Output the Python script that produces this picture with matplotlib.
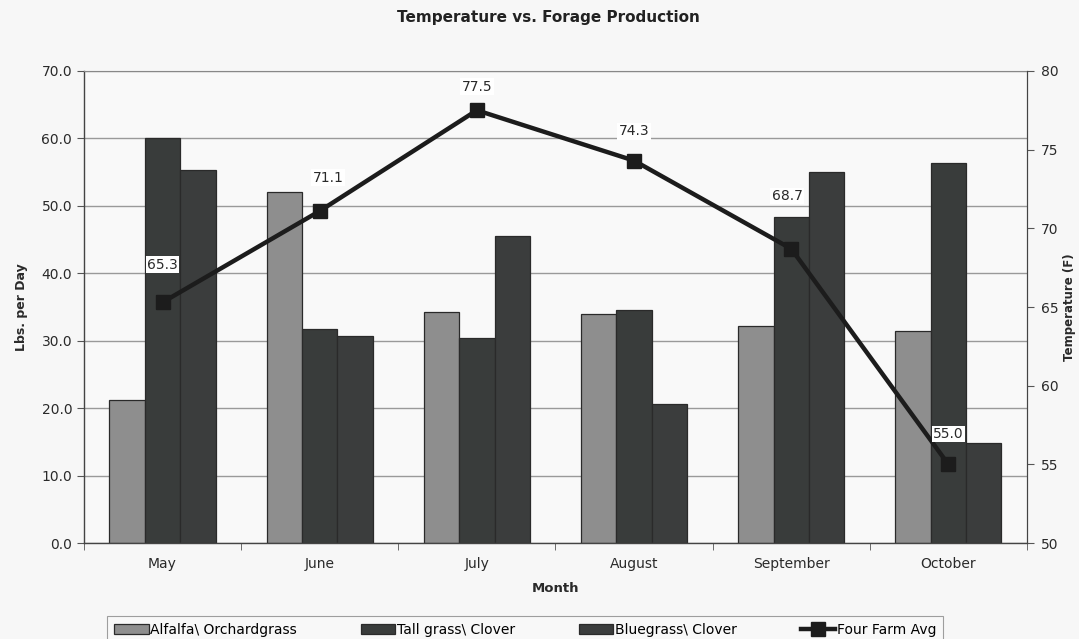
import matplotlib
matplotlib.use("Agg")
import matplotlib.pyplot as plt
import numpy as np

months = ["May", "June", "July", "August", "September", "October"]
alfalfa = [21.2, 52.1, 34.3, 33.9, 32.2, 31.5]
tall_grass = [60.0, 31.7, 30.4, 34.6, 48.4, 56.3]
bluegrass = [55.3, 30.7, 45.6, 20.6, 55.0, 14.9]
temperature = [65.3, 71.1, 77.5, 74.3, 68.7, 55.0]
series_names = ["Alfalfa\\ Orchardgrass", "Tall grass\\ Clover", "Bluegrass\\ Clover", "Four Farm Avg"]

# label offsets in points (style only)
label_offsets = [(0, 27), (6, 24), (0, 17), (0, 21), (-3, 38), (0, 22)]

plt.rcParams['font.family'] = ['DejaVu Sans']

fig = plt.figure(figsize=(10.79, 6.39), dpi=100, facecolor="#f7f7f7")
ax = fig.add_axes([0.0778, 0.150, 0.874, 0.739])
ax.set_facecolor("#f9f9f9")

x = np.arange(len(months))
w = 0.225
bar_colors = ["#8e8e8e", "#393c3b", "#3b3d3d"]
for i, (vals, col) in enumerate(zip([alfalfa, tall_grass, bluegrass], bar_colors)):
    ax.bar(x + (i - 1) * w, vals, w, color=col, edgecolor="#2a2a2a", linewidth=0.9,
           label=series_names[i], zorder=2)

ax.set_xlim(-0.5, len(months) - 0.5)
ax.set_ylim(0, 70)
ax.set_yticks(np.arange(0, 71, 10))
ax.set_yticklabels([f"{v:.1f}" for v in np.arange(0, 71, 10)])
ax.set_xticks(x)
ax.set_xticklabels(months)
ax.set_xticks(np.arange(-0.5, len(months), 1), minor=True)
ax.tick_params(axis='x', which='major', length=0, pad=10, labelsize=10, colors="#2a2a2a")
ax.tick_params(axis='x', which='minor', length=5, color="#555555")
ax.tick_params(axis='y', length=5, labelsize=10, color="#555555", labelcolor="#2a2a2a")
ax.yaxis.grid(True, color="#9a9a9a", linewidth=1.0, zorder=0)
ax.set_axisbelow(True)
for s in ["left", "bottom"]:
    ax.spines[s].set_color("#444444")
    ax.spines[s].set_linewidth(1.0)
ax.spines["top"].set_color("#888888")
ax.spines["right"].set_color("#444444")

ax.set_xlabel("Month", fontweight="bold", fontsize=9.5, labelpad=8, color="#2a2a2a")
ax.set_ylabel("Lbs. per Day", fontweight="bold", fontsize=9, labelpad=10, color="#2a2a2a")

ax2 = ax.twinx()
ax2.set_ylim(50, 80)
ax2.set_yticks(np.arange(50, 81, 5))
ax2.tick_params(axis='y', length=5, labelsize=10, color="#555555", labelcolor="#2a2a2a", pad=5)
line, = ax2.plot(x, temperature, color="#1c1c1c", linewidth=3.2, marker="s", markersize=10,
                 label=series_names[3], zorder=5)
ax2.set_ylabel("Temperature (F)", fontweight="bold", fontsize=8.5, labelpad=3, color="#2a2a2a")
for spine in ax2.spines.values():
    spine.set_visible(False)
ax2.spines["right"].set_visible(True)
ax2.spines["right"].set_color("#444444")

for xi, t, off in zip(x, temperature, label_offsets):
    ax2.annotate(f"{t:.1f}", (xi, t), xytext=off, textcoords="offset points",
                 ha="center", va="center", fontsize=10, color="#2a2a2a",
                 bbox=dict(boxstyle="square,pad=0.1", fc="white", ec="none"), zorder=6)

fig.suptitle("Temperature vs. Forage Production", fontweight="bold", fontsize=11,
             x=0.508, y=0.985, color="#222222")

handles = ax.get_legend_handles_labels()[0] + [line]
leg = fig.legend(handles, series_names, loc="upper center", ncol=4,
                 bbox_to_anchor=(0.4866, 0.036), frameon=True, fontsize=10,
                 handlelength=2.5, handletextpad=0.1, columnspacing=4.6,
                 borderpad=0.5, borderaxespad=0.0, fancybox=False,
                 edgecolor="#888888", facecolor="#f9f9f9")
leg.get_frame().set_linewidth(0.8)

fig.savefig("out.png", dpi=100, facecolor=fig.get_facecolor())
